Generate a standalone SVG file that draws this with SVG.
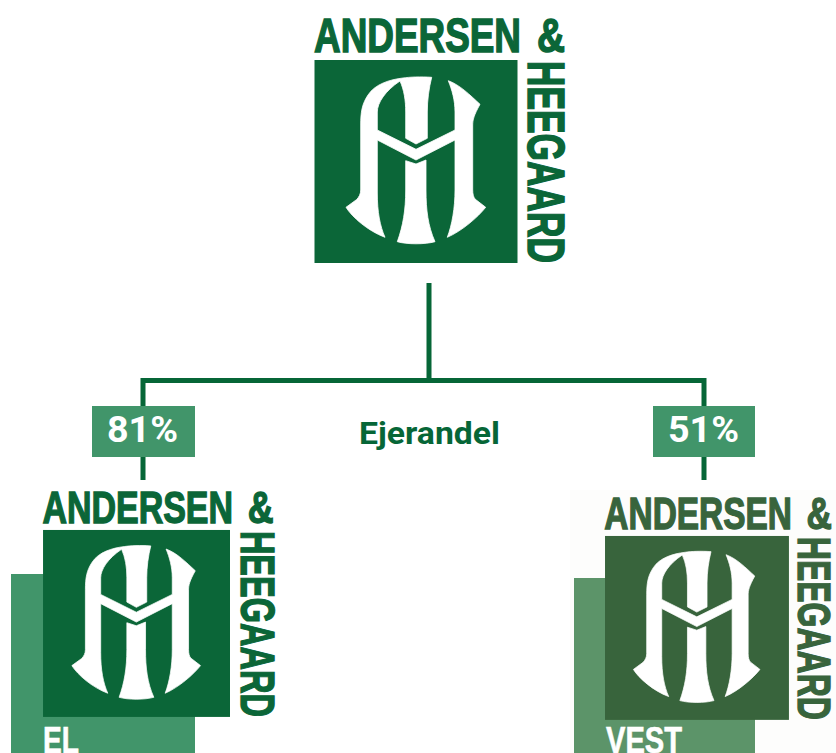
<svg xmlns="http://www.w3.org/2000/svg" width="836" height="753" viewBox="0 0 836 753">
<style>
.wm{font-family:"Liberation Sans",Arial,sans-serif;font-weight:700;font-size:49px;stroke-width:1.5px}
.rot{font-size:52px}
.g1{fill:#0b6638;stroke:#0b6638}
.g2{fill:#38643c;stroke:#38643c}
.sq1{fill:#0b6638}
.sq2{fill:#38643c}
.tag{font-family:"Liberation Sans",Arial,sans-serif;font-weight:700;font-size:36px;fill:#fff;stroke:#fff;stroke-width:.6px}
.pct{font-family:Roboto,"Liberation Sans",sans-serif;font-weight:700;font-size:36px;fill:#fff}
.own{font-family:Roboto,"Liberation Sans",sans-serif;font-weight:700;font-size:31px;fill:#066637}
.badge{fill:#41956a}
.conn{fill:none;stroke:#066637;stroke-width:5}
</style>
<defs>
<g id="mono" fill="#fff" stroke="#fff" stroke-width=".8">
<path d="M431.7 77.3C420 76.5 410 77 403 78C390 79.5 375 84 368 95C362 104 360.7 112 360.7 125V190C360.7 194 359 197 356.7 199.5L346 207.3C352 217 368 231 385 237.3C380 226 377.3 212 377.3 193V140L416 160L455 140V190C455 208 452 225 447.3 237.3C462 231 478 217 485.7 207.3L475 199C473.5 197 472.7 194 472.7 190V125C472.7 120 474 115 480 104.3C470 95 460 85 448.3 80.7C452 90 455 100 455 112V130L416 149.3L377.3 130V112C377.3 103 385 91 400 81C404 90 405.7 100 405.7 112V138.3L416 144L427.3 138.3V112C427.3 100 429 88 431.7 77.3Z"/>
<path d="M405.7 160.7L416 164L426 160V190C426 210 428 226 435 241.7C425 244.5 407 244.5 397.3 241.7C403 226 405.7 210 405.7 190Z"/>
</g>
</defs>
<rect id="vest-backdrop" x="570" y="490" width="266" height="263" fill="#fdfdfc"/>
<g id="connectors">
<path class="conn" d="M429 283V380.5M143 480V380.5H704V480"/>
</g>
<g id="parent">
<text class="wm g1" x="314" y="52" textLength="207" lengthAdjust="spacingAndGlyphs">ANDERSEN</text>
<text class="wm g1" x="537" y="52" textLength="28" lengthAdjust="spacingAndGlyphs">&amp;</text>
<rect class="sq1" x="314.5" y="60" width="203" height="203"/>
<use href="#mono"/>
<text class="wm rot g1" transform="translate(527.5,61) rotate(90)" textLength="202" lengthAdjust="spacingAndGlyphs">HEEGAARD</text>
</g>
<g id="badge-81">
<rect class="badge" x="92" y="406" width="103" height="51"/>
<text class="pct" x="107" y="442" textLength="71" lengthAdjust="spacingAndGlyphs">81%</text>
</g>
<g id="badge-51">
<rect class="badge" x="653" y="406" width="102" height="51"/>
<text class="pct" x="668" y="442" textLength="71" lengthAdjust="spacingAndGlyphs">51%</text>
</g>
<g id="label-ejerandel">
<text class="own" x="359" y="444" textLength="141" lengthAdjust="spacingAndGlyphs">Ejerandel</text>
</g>
<g id="company-el">
<rect x="11" y="574" width="184" height="179" fill="#41956a"/>
<g transform="translate(-246.8,474.7) scale(.921)">
<text class="wm g1" x="314" y="52" textLength="207" lengthAdjust="spacingAndGlyphs">ANDERSEN</text>
<text class="wm g1" x="537" y="52" textLength="28" lengthAdjust="spacingAndGlyphs">&amp;</text>
<rect class="sq1" x="314.7" y="60" width="203" height="203"/>
<use href="#mono"/>
<text class="wm rot g1" transform="translate(530,61) rotate(90)" textLength="202" lengthAdjust="spacingAndGlyphs">HEEGAARD</text>
</g>
<text class="tag" x="43" y="753" textLength="36" lengthAdjust="spacingAndGlyphs">EL</text>
</g>
<g id="company-vest">
<rect x="574" y="578" width="181" height="175" fill="#5c9469"/>
<g transform="translate(319.9,481.6) scale(.906)">
<text class="wm g2" x="314" y="52" textLength="207" lengthAdjust="spacingAndGlyphs">ANDERSEN</text>
<text class="wm g2" x="537" y="52" textLength="28" lengthAdjust="spacingAndGlyphs">&amp;</text>
<rect class="sq2" x="314.7" y="60" width="203" height="203"/>
<use href="#mono"/>
<text class="wm rot g2" transform="translate(527.5,61) rotate(90)" textLength="202" lengthAdjust="spacingAndGlyphs">HEEGAARD</text>
</g>
<text class="tag" x="606" y="753" textLength="76" lengthAdjust="spacingAndGlyphs">VEST</text>
</g>
</svg>
